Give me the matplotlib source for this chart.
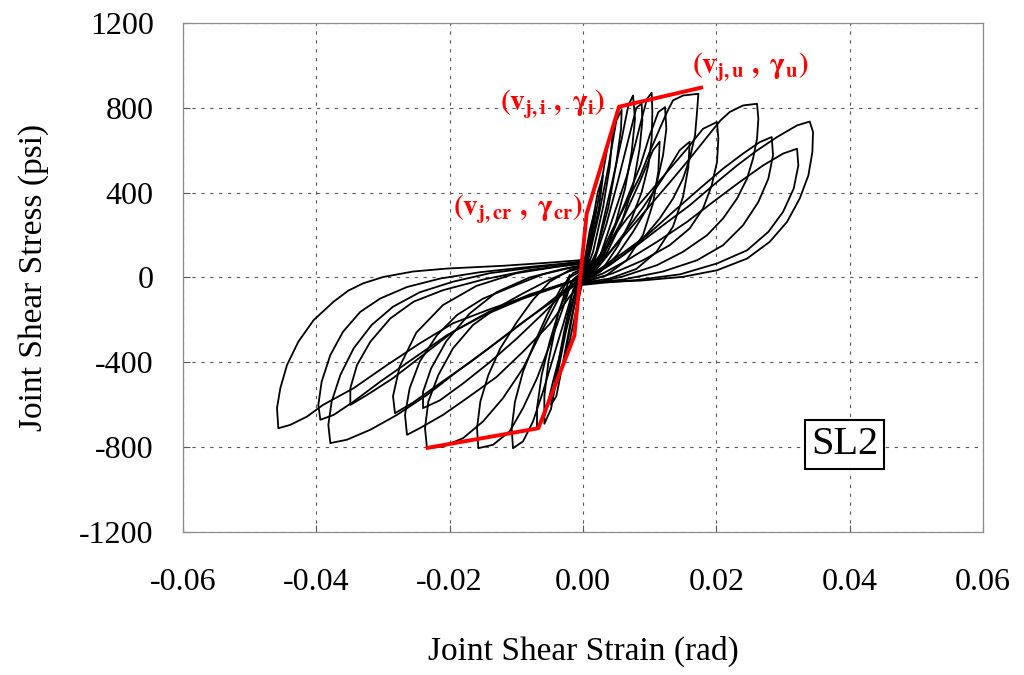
import numpy as np
import matplotlib.pyplot as plt

plt.rcParams['font.family'] = ['Liberation Serif', 'DejaVu Serif']
plt.rcParams['mathtext.fontset'] = 'stix'
plt.rcParams['axes.unicode_minus'] = False

# tick values / labels
x_ticks = [-0.06, -0.04, -0.02, 0.0, 0.02, 0.04, 0.06]
x_labels = ['-0.06', '-0.04', '-0.02', '0.00', '0.02', '0.04', '0.06']
y_ticks = [-1200, -800, -400, 0, 400, 800, 1200]
y_labels = ['-1200', '-800', '-400', '0', '400', '800', '1200']

# backbone envelope (strain rad, stress psi)
env_strain = [-0.0236, -0.0067, -0.0013, 0.00055, 0.0054, 0.0180]
env_stress = [-805, -711, -275, 301, 805, 897]

# positive half-cycles: origin -> lower edge -> peak -> upper edge -> origin
lobe_p1 = [(0.0000, -30), (0.0030, -22), (0.0086, -15), (0.0150, 3), (0.0201, 34), (0.0246, 89),
           (0.0280, 168), (0.0306, 262), (0.0325, 372), (0.0338, 481), (0.0344, 591), (0.0345, 686),
           (0.0340, 735), (0.0321, 717), (0.0291, 662), (0.0261, 599), (0.0231, 528), (0.0201, 450),
           (0.0160, 340), (0.0120, 246), (0.0081, 152), (0.0040, 58), (0.0010, 0)]
lobe_p2 = [(0.0000, -35), (0.0030, -25), (0.0081, -12), (0.0146, 15), (0.0201, 66), (0.0246, 128),
           (0.0278, 215), (0.0300, 309), (0.0316, 419), (0.0323, 528), (0.0321, 607), (0.0300, 584),
           (0.0270, 528), (0.0235, 450), (0.0195, 356), (0.0156, 262), (0.0111, 168), (0.0066, 81),
           (0.0030, 19), (0.0005, -10)]
lobe_p3 = [(0.0000, -30), (0.0060, -10), (0.0120, 28), (0.0171, 81), (0.0210, 152), (0.0240, 246),
           (0.0263, 356), (0.0278, 466), (0.0285, 576), (0.0283, 662), (0.0265, 638), (0.0240, 584),
           (0.0210, 513), (0.0175, 419), (0.0135, 309), (0.0096, 199), (0.0055, 105), (0.0026, 42),
           (0.0005, 0)]
lobe_p4 = [(0.0000, -28), (0.0026, -20), (0.0060, 5), (0.0111, 58), (0.0150, 121), (0.0186, 199),
           (0.0210, 278), (0.0231, 372), (0.0246, 466), (0.0255, 560), (0.0261, 654), (0.0263, 748),
           (0.0261, 819), (0.0240, 811), (0.0220, 780), (0.0206, 740), (0.0186, 662), (0.0160, 560),
           (0.0135, 466), (0.0105, 356), (0.0075, 246), (0.0045, 136), (0.0021, 42), (0.0005, 0)]
lobe_p5 = [(0.0000, -25), (0.0045, 20), (0.0090, 81), (0.0130, 152), (0.0160, 231), (0.0180, 325),
           (0.0193, 434), (0.0201, 544), (0.0203, 654), (0.0201, 733), (0.0180, 701), (0.0156, 607),
           (0.0126, 497), (0.0096, 387), (0.0066, 278), (0.0036, 152), (0.0010, 40)]
lobe_p6 = [(0.0000, -20), (0.0030, 42), (0.0060, 105), (0.0090, 184), (0.0115, 278), (0.0135, 372),
           (0.0150, 466), (0.0160, 560), (0.0168, 670), (0.0171, 780), (0.0173, 866), (0.0150, 858),
           (0.0135, 835), (0.0126, 780), (0.0115, 701), (0.0100, 592), (0.0086, 481), (0.0066, 356),
           (0.0045, 231), (0.0026, 105), (0.0008, 20)]
lobe_p7 = [(0.0000, -15), (0.0026, 27), (0.0051, 105), (0.0075, 215), (0.0096, 325), (0.0111, 450),
           (0.0120, 576), (0.0125, 701), (0.0123, 803), (0.0113, 780), (0.0100, 670), (0.0086, 528),
           (0.0066, 372), (0.0045, 215), (0.0026, 74), (0.0008, 10)]
lobe_p8 = [(0.0000, -10), (0.0030, 42), (0.0053, 152), (0.0073, 278), (0.0088, 403), (0.0098, 528),
           (0.0103, 654), (0.0104, 780), (0.0103, 871), (0.0096, 842), (0.0088, 748), (0.0078, 623),
           (0.0066, 481), (0.0051, 340), (0.0036, 199), (0.0021, 58), (0.0005, 0)]
lobe_p9 = [(0.0000, -10), (0.0030, 89), (0.0048, 246), (0.0063, 419), (0.0073, 592), (0.0078, 748),
           (0.0075, 858), (0.0068, 811), (0.0058, 654), (0.0045, 466), (0.0030, 262), (0.0018, 89),
           (0.0003, 0)]
lobe_p10 = [(0.0000, -10), (0.0035, 110), (0.0058, 260), (0.0075, 430), (0.0085, 610), (0.0089, 740),
            (0.0088, 819), (0.0080, 800), (0.0068, 650), (0.0052, 450), (0.0035, 250), (0.0018, 90),
            (0.0003, 0)]
lobe_p11 = [(0.0000, -10), (0.0020, 120), (0.0038, 330), (0.0050, 540), (0.0057, 700), (0.0058, 790),
            (0.0050, 740), (0.0038, 520), (0.0024, 300), (0.0010, 110), (0.0000, 0)]
lobe_p12 = [(0.0000, -5), (0.0015, 120), (0.0030, 330), (0.0040, 520), (0.0045, 700), (0.0038, 640),
            (0.0026, 420), (0.0014, 210), (0.0002, 20)]
lobe_p13 = [(0.0000, 0), (0.0012, 150), (0.0024, 330), (0.0030, 480), (0.0022, 400), (0.0012, 220),
            (0.0000, 30)]
lobe_p14 = [(0.0000, 0), (0.0010, 150), (0.0018, 320), (0.0010, 220), (0.0000, 40)]
lobe_p15 = [(0.0000, -25), (0.0040, -5), (0.0080, 40), (0.0110, 120), (0.0135, 240), (0.0150, 380),
            (0.0158, 520), (0.0160, 640), (0.0145, 600), (0.0120, 470), (0.0090, 330), (0.0060, 200),
            (0.0030, 80), (0.0005, 10)]
lobe_p16 = [(0.0000, -20), (0.0035, 10), (0.0065, 80), (0.0090, 200), (0.0105, 350), (0.0113, 500),
            (0.0115, 640), (0.0105, 600), (0.0085, 450), (0.0062, 290), (0.0038, 150), (0.0015, 40)]

# negative half-cycles: origin -> upper edge -> peak -> lower edge -> origin
lobe_n1 = [(0.0010, 85), (-0.0050, 70), (-0.0120, 55), (-0.0204, 42), (-0.0255, 28), (-0.0300, 2),
           (-0.0330, -28), (-0.0352, -62), (-0.0374, -114), (-0.0404, -201), (-0.0427, -303),
           (-0.0444, -413), (-0.0454, -522), (-0.0459, -616), (-0.0457, -711), (-0.0439, -695),
           (-0.0414, -656), (-0.0390, -601), (-0.0344, -522), (-0.0294, -413), (-0.0245, -311),
           (-0.0195, -216), (-0.0140, -150), (-0.0080, -85), (-0.0030, -30), (0.0000, 0)]
lobe_n2 = [(0.0010, 80), (-0.0030, 65), (-0.0080, 50), (-0.0154, 25), (-0.0214, -5), (-0.0264, -45),
           (-0.0304, -99), (-0.0334, -162), (-0.0360, -256), (-0.0379, -366), (-0.0392, -491),
           (-0.0397, -601), (-0.0394, -671), (-0.0374, -648), (-0.0344, -585), (-0.0304, -491),
           (-0.0254, -381), (-0.0204, -272), (-0.0150, -180), (-0.0090, -100), (-0.0030, -35),
           (0.0000, 0)]
lobe_n3 = [(0.0010, 75), (-0.0030, 62), (-0.0080, 45), (-0.0140, 20), (-0.0195, -20), (-0.0245, -70),
           (-0.0285, -138), (-0.0317, -224), (-0.0344, -334), (-0.0364, -460), (-0.0377, -585),
           (-0.0382, -695), (-0.0379, -781), (-0.0354, -765), (-0.0319, -718), (-0.0279, -648),
           (-0.0234, -554), (-0.0189, -444), (-0.0140, -330), (-0.0090, -210), (-0.0040, -100),
           (0.0000, -10)]
lobe_n4 = [(0.0010, 70), (-0.0030, 55), (-0.0080, 35), (-0.0150, -10), (-0.0210, -60), (-0.0254, -114),
           (-0.0289, -193), (-0.0319, -303), (-0.0339, -413), (-0.0349, -522), (-0.0349, -601),
           (-0.0324, -554), (-0.0285, -475), (-0.0240, -366), (-0.0195, -256), (-0.0140, -160),
           (-0.0080, -80), (-0.0020, -20), (0.0000, 0)]
lobe_n5 = [(0.0010, 60), (-0.0020, 45), (-0.0060, 15), (-0.0100, -35), (-0.0150, -100), (-0.0189, -177),
           (-0.0219, -272), (-0.0245, -397), (-0.0260, -522), (-0.0267, -648), (-0.0264, -742),
           (-0.0245, -711), (-0.0210, -648), (-0.0174, -569), (-0.0130, -470), (-0.0090, -350),
           (-0.0050, -220), (-0.0020, -90), (0.0000, -10)]
lobe_n6 = [(0.0010, 55), (-0.0020, 30), (-0.0050, -10), (-0.0090, -75), (-0.0130, -145), (-0.0165, -224),
           (-0.0195, -334), (-0.0217, -460), (-0.0232, -585), (-0.0237, -711), (-0.0234, -805),
           (-0.0210, -797), (-0.0180, -758), (-0.0150, -679), (-0.0120, -569), (-0.0090, -428),
           (-0.0065, -272), (-0.0039, -114), (-0.0020, 11)]
lobe_n7 = [(0.0005, 60), (-0.0020, 35), (-0.0050, -20), (-0.0075, -105), (-0.0099, -209), (-0.0124, -334),
           (-0.0142, -460), (-0.0154, -585), (-0.0159, -711), (-0.0157, -805), (-0.0135, -789),
           (-0.0110, -726), (-0.0090, -616), (-0.0069, -475), (-0.0050, -319), (-0.0032, -161),
           (-0.0017, -20), (0.0000, 20)]
lobe_n8 = [(0.0005, 50), (-0.0015, 20), (-0.0034, -55), (-0.0054, -177), (-0.0072, -303), (-0.0090, -444),
           (-0.0102, -585), (-0.0107, -711), (-0.0105, -805), (-0.0090, -773), (-0.0075, -679),
           (-0.0060, -538), (-0.0045, -381), (-0.0030, -224), (-0.0017, -83), (0.0000, 10)]
lobe_n9 = [(0.0000, 30), (-0.0015, -10), (-0.0035, -146), (-0.0050, -303), (-0.0062, -460),
           (-0.0069, -616), (-0.0069, -711), (-0.0057, -648), (-0.0045, -491), (-0.0032, -334),
           (-0.0022, -177), (-0.0008, -30), (0.0000, 0)]
lobe_n10 = [(0.0010, 65), (-0.0030, 40), (-0.0080, 0), (-0.0130, -70), (-0.0170, -170), (-0.0205, -300),
            (-0.0228, -430), (-0.0240, -540), (-0.0240, -616), (-0.0215, -580), (-0.0180, -500),
            (-0.0140, -400), (-0.0100, -290), (-0.0060, -170), (-0.0025, -60), (0.0000, 0)]
lobe_n11 = [(0.0000, 20), (-0.0015, -60), (-0.0028, -250), (-0.0040, -450), (-0.0048, -600),
            (-0.0040, -560), (-0.0030, -400), (-0.0018, -200), (-0.0005, -20)]
lobe_n12 = [(0.0000, 10), (-0.0010, -80), (-0.0020, -250), (-0.0028, -380), (-0.0020, -300),
            (-0.0010, -150), (0.0000, -10)]
lobe_n13 = [(0.0005, 45), (-0.0020, 0), (-0.0038, -180), (-0.0052, -400), (-0.0058, -560),
            (-0.0058, -690), (-0.0048, -620), (-0.0038, -450), (-0.0026, -260), (-0.0012, -80), (0.0000, 0)]
lobe_n14 = [(0.0010, 70), (-0.0040, 50), (-0.0100, 20), (-0.0160, -40), (-0.0210, -130), (-0.0250, -260),
            (-0.0275, -420), (-0.0285, -560), (-0.0282, -640), (-0.0255, -590), (-0.0215, -500),
            (-0.0165, -390), (-0.0110, -260), (-0.0060, -140), (-0.0020, -40), (0.0000, 0)]

lobes = [lobe_p1, lobe_p2, lobe_p3, lobe_p4, lobe_p5, lobe_p6, lobe_p7, lobe_p8, lobe_p9, lobe_p10,
         lobe_p11, lobe_p12, lobe_p13, lobe_p14, lobe_p15, lobe_p16,
         lobe_n1, lobe_n2, lobe_n3, lobe_n4, lobe_n5, lobe_n6, lobe_n7, lobe_n8, lobe_n9, lobe_n10,
         lobe_n11, lobe_n12, lobe_n13, lobe_n14]

fig = plt.figure(figsize=(10.24, 6.75), dpi=100)
ax = fig.add_axes([0.1787, 0.2119, 0.7813, 0.7541])

for lobe in lobes:
    pts = np.array(lobe)
    ax.plot(pts[:, 0], pts[:, 1], color='black', linewidth=1.3, solid_joinstyle='round')

ax.plot(env_strain, env_stress, color='#ff0000', linewidth=2.8, solid_capstyle='butt', zorder=5)

ax.set_xlim(-0.06, 0.06)
ax.set_ylim(-1200, 1200)
ax.set_xticks(x_ticks)
ax.set_xticklabels(x_labels)
ax.set_yticks(y_ticks)
ax.set_yticklabels(y_labels)
ax.tick_params(axis='both', direction='in', length=5, width=0.8, color='0.35', labelsize=23)
ax.tick_params(axis='x', pad=26)
ax.tick_params(axis='y', pad=21)
ax.grid(True, color='0.35', linestyle=(0, (3, 5)), linewidth=0.8)
for sp in ax.spines.values():
    sp.set_color('0.55')
    sp.set_linewidth(0.9)

ax.set_xlabel('Joint Shear Strain (rad)', fontsize=24, labelpad=28)
ax.set_ylabel('Joint Shear Stress (psi)', fontsize=24, labelpad=22)

red = '#ff0000'
ax.text(0.02505, 995, r'$\mathbf{(v_{j,u}\ ,\ \gamma_{u})}$', color=red, fontsize=21,
        ha='center', va='center')
ax.text(-0.0046, 819, r'$\mathbf{(v_{j,i}\ ,\ \gamma_{i})}$', color=red, fontsize=21,
        ha='center', va='center')
ax.text(-0.0098, 325, r'$\mathbf{(v_{j,cr}\ ,\ \gamma_{cr})}$', color=red, fontsize=21,
        ha='center', va='center')

ax.text(0.0392, -786, 'SL2', fontsize=29, ha='center', va='center',
        bbox=dict(boxstyle='square,pad=0.15', facecolor='white', edgecolor='black', linewidth=1.5),
        zorder=6)

fig.savefig('out.png', dpi=100)
